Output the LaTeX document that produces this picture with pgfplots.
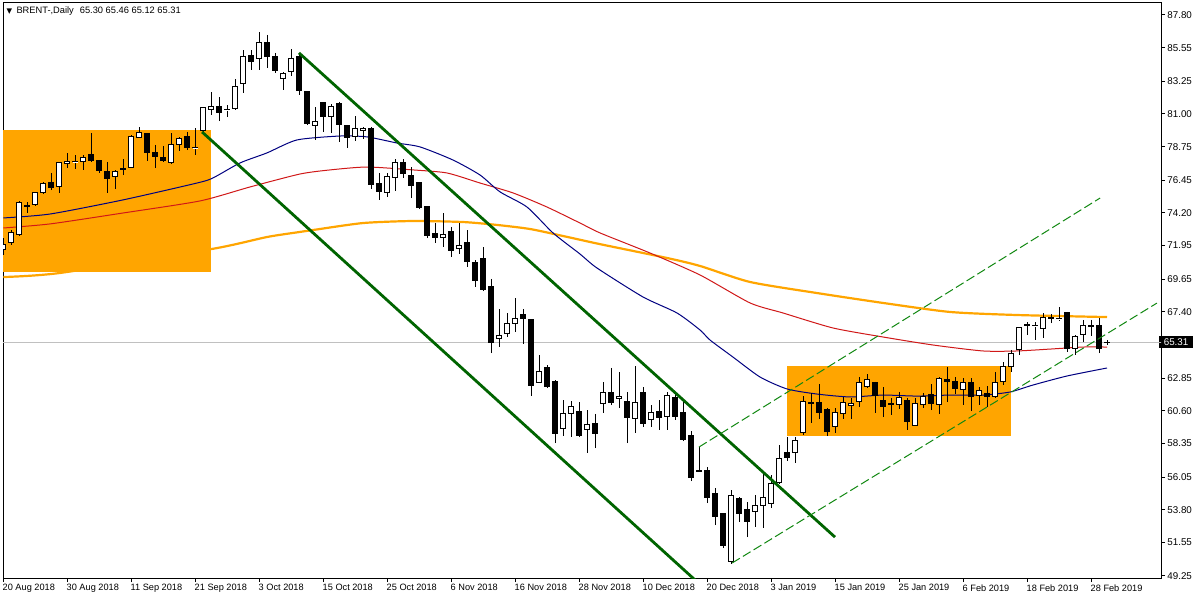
\documentclass[border=0pt]{standalone}
\usepackage{fontspec}
\setmainfont{Liberation Sans}
\newfontfamily\symfont{DejaVu Sans}
\usepackage{pgfplots}
\usepackage{pgfplotstable}
\usepgfplotslibrary{statistics}
\pgfplotsset{compat=1.18}
\definecolor{mtorange}{HTML}{FFA500}
\definecolor{dkgreen}{HTML}{006400}
\definecolor{dgreen}{HTML}{118811}
\definecolor{mtnavy}{HTML}{000080}
\definecolor{mtred}{HTML}{D01818}
\definecolor{mtsilver}{HTML}{C0C0C0}

\pgfplotstableread{
o h l c
71.65 72.50 71.30 72.00
72.13 73.02 71.99 72.82
72.68 75.02 72.61 74.88
74.67 74.95 74.19 74.70
74.74 75.63 74.67 75.57
75.57 76.32 75.50 76.25
76.32 76.94 75.77 75.91
75.98 77.70 75.57 77.63
77.56 78.32 77.28 77.70
77.70 78.18 77.22 77.72
77.70 78.18 77.15 77.97
78.18 79.69 77.70 77.77
77.83 77.83 76.94 77.08
77.01 77.70 75.57 76.53
76.67 77.15 75.84 77.01
77.28 77.90 76.80 77.15
77.35 79.55 77.35 79.48
79.41 80.10 79.35 79.69
79.62 79.62 77.77 78.38
78.38 78.87 77.28 78.04
77.97 78.80 77.70 77.83
77.63 79.69 77.56 78.87
78.93 79.42 78.45 79.28
79.42 79.76 78.52 78.66
78.66 80.03 78.18 78.68
79.83 81.48 79.76 81.41
81.27 82.51 80.93 81.48
81.48 82.16 80.51 81.13
81.27 81.61 80.79 81.29
81.34 83.40 81.27 82.85
83.06 85.39 82.44 84.91
84.98 85.39 84.02 84.57
84.78 86.63 84.02 85.94
85.94 86.43 84.16 84.91
84.91 85.19 83.81 83.95
83.40 83.88 82.65 83.75
83.88 85.46 83.61 84.84
84.91 85.19 82.30 82.58
82.51 82.51 80.24 80.31
80.17 81.48 79.21 80.45
81.75 81.75 79.76 80.79
80.79 81.68 79.69 81.48
81.68 81.82 79.07 80.24
80.17 80.24 78.66 79.35
79.42 80.86 79.14 79.97
79.83 80.10 79.28 79.97
80.03 80.10 75.84 76.18
76.25 76.94 75.09 75.64
75.57 76.94 75.29 76.67
76.60 77.90 75.70 77.63
77.63 77.90 76.60 76.87
76.80 77.35 75.22 76.05
76.32 76.32 74.47 74.54
74.67 74.67 72.47 72.61
72.75 73.50 72.13 72.54
72.54 74.19 71.85 72.68
72.89 73.23 71.17 71.58
71.72 73.50 71.37 71.99
72.13 73.02 70.48 70.89
70.82 70.96 69.11 69.52
71.03 71.85 68.83 68.90
69.17 69.66 64.57 65.26
65.60 67.59 64.98 65.80
65.94 67.32 65.67 66.63
66.63 68.35 66.01 66.97
67.25 67.59 65.19 66.97
66.84 66.84 61.62 62.37
62.51 64.43 62.51 63.33
63.54 63.74 62.16 62.30
62.58 62.71 58.38 59.07
59.35 61.34 58.87 60.38
60.38 61.27 58.80 60.86
60.58 61.20 58.80 58.87
59.28 60.65 57.70 59.69
59.76 60.38 58.04 59.07
61.13 62.58 60.45 61.89
61.89 63.54 60.99 61.20
61.41 63.26 60.79 61.55
61.27 61.89 58.38 60.17
60.10 63.68 59.07 61.20
61.89 62.23 59.49 59.76
60.03 60.99 59.49 60.45
60.58 61.34 59.28 60.17
60.24 61.89 59.28 61.68
61.48 61.82 59.97 60.24
60.45 61.20 58.52 58.66
58.93 59.21 55.77 56.05
56.46 58.11 56.39 56.48
56.53 56.73 54.26 54.67
54.95 55.29 52.75 53.37
53.51 53.57 51.17 51.31
50.21 55.16 50.07 54.81
54.60 54.67 52.96 53.57
53.85 54.33 51.92 52.96
53.71 54.81 52.62 54.12
54.12 56.32 52.55 54.67
54.26 56.19 53.92 55.57
55.64 58.25 55.57 57.35
57.70 58.80 57.15 57.42
57.70 58.80 57.01 58.59
59.14 61.62 58.93 61.27
61.13 61.82 59.76 61.15
61.20 62.44 60.03 60.45
60.72 60.79 58.87 59.21
59.49 60.79 59.07 60.45
60.38 61.55 60.03 61.20
60.93 61.48 60.03 61.13
61.27 62.92 60.86 62.51
62.30 63.13 62.16 62.78
62.51 62.58 60.45 61.62
61.34 62.23 60.17 60.86
61.00 61.48 60.31 61.13
61.00 61.89 60.72 61.48
61.34 61.48 59.28 59.83
59.62 61.48 59.55 61.13
61.00 61.82 60.79 61.55
61.75 62.44 60.65 61.13
61.00 62.92 60.38 62.85
62.78 63.61 61.20 62.64
62.58 62.92 61.75 62.10
62.03 62.85 60.99 62.51
62.51 62.85 60.58 61.55
61.62 62.23 60.99 61.96
61.82 62.30 60.86 61.55
61.55 63.26 61.48 62.51
62.58 63.95 62.37 63.61
63.61 64.78 63.26 64.57
64.84 66.36 64.43 66.29
66.49 66.70 65.81 66.51
66.43 66.70 65.46 66.45
66.22 67.32 65.60 67.04
67.04 67.25 66.63 66.91
66.91 67.73 66.77 66.93
67.32 67.39 64.64 64.91
64.91 65.81 64.43 65.67
65.81 66.84 65.33 66.43
66.49 66.84 65.74 66.36
66.49 66.98 64.57 64.91
65.30 65.46 65.12 65.31
}\ohlc

\pgfplotsset{candle/.style={draw=black, line width=0.5pt, solid, mark=none, forget plot,
  boxplot/draw direction=y, boxplot/box extend=0.6, boxplot/whisker extend=0}}

\begin{document}
\begin{tikzpicture}
\begin{axis}[
  scale only axis, width=579pt, height=287.5pt,
  xmin=-0.04, xmax=144.71, ymin=49.11, ymax=88.62,
  axis line style={line width=0.5pt, black},
  clip mode=individual,
  xtick={0,8,...,136},
  xticklabels={20 Aug 2018,30 Aug 2018,11 Sep 2018,21 Sep 2018,3 Oct 2018,15 Oct 2018,25 Oct 2018,6 Nov 2018,16 Nov 2018,28 Nov 2018,10 Dec 2018,20 Dec 2018,3 Jan 2019,15 Jan 2019,25 Jan 2019,6 Feb 2019,18 Feb 2019,28 Feb 2019},
  ytick={49.25,51.55,53.80,56.05,58.35,60.60,62.85,67.40,69.65,71.95,74.20,76.45,78.75,81.00,83.25,85.55,87.80},
  yticklabels={49.25,51.55,53.80,56.05,58.35,60.60,62.85,67.40,69.65,71.95,74.20,76.45,78.75,81.00,83.25,85.55,87.80},
  xtick pos=bottom, ytick pos=right, yticklabel pos=right,
  tick align=outside, major tick length=2pt,
  tick style={black, line width=0.5pt},
  xticklabel style={font=\fontsize{4.6}{5}\selectfont, anchor=north west, inner sep=0pt, xshift=-0.5pt, yshift=-1pt},
  yticklabel style={font=\fontsize{4.9}{5}\selectfont, anchor=west, inner sep=0pt, xshift=1pt},
  extra y ticks={65.31}, extra y tick labels={65.31},
  extra y tick style={major tick length=0pt, yticklabel style={fill=black, text=white, inner xsep=2.2pt, inner ysep=1.2pt, xshift=-2pt}},
]
% current price line
\addplot[mtsilver, line width=0.5pt, forget plot] coordinates {(-1,65.31) (145,65.31)};
% rectangles
\addplot[fill=mtorange, draw=none, forget plot] coordinates {(-1,70.16) (25.96,70.16) (25.96,79.90) (-1,79.90)} -- cycle;
\addplot[fill=mtorange, draw=none, forget plot] coordinates {(97.9,58.89) (125.96,58.89) (125.96,63.68) (97.9,63.68)} -- cycle;
% moving averages
\addplot[mtorange, line width=1.1pt, smooth, tension=0.4, forget plot] coordinates {(0,69.79)(7.09,70.07)(26.09,71.72)(32.96,72.54)(37.09,72.89)(38.71,73.02)(44.96,73.50)(51.21,73.64)(57.46,73.57)(61.71,73.37)(65.84,73.09)(69.96,72.61)(74.59,72.05)(82.96,71.10)(87.09,70.55)(93.34,69.45)(101.71,68.69)(109.96,68.01)(118.34,67.39)(126.71,67.18)(137.96,67.04)};
\addplot[mtred, line width=0.5pt, smooth, tension=0.4, forget plot] coordinates {(0,73.16)(5.84,73.44)(14.96,74.19)(24.59,75.02)(30.84,75.98)(37.09,76.87)(40.84,77.15)(45.46,77.35)(51.21,77.15)(55.46,76.94)(59.59,76.25)(63.71,75.57)(67.96,74.60)(72.09,73.50)(74.59,72.82)(80.84,71.44)(87.09,69.93)(93.34,68.01)(97.46,67.32)(103.71,66.29)(109.96,65.67)(116.21,65.12)(122.46,64.71)(126.71,64.71)(130.84,64.84)(134.96,64.98)(137.96,64.98)};
\addplot[mtnavy, line width=0.5pt, smooth, tension=0.4, forget plot] coordinates {(0,73.85)(5.84,74.12)(14.96,75.09)(24.21,76.25)(26.21,76.60)(29.59,77.63)(32.96,78.32)(36.71,79.21)(42.09,79.48)(45.46,79.42)(49.21,79.00)(52.09,78.73)(56.21,77.83)(59.59,76.80)(62.09,75.64)(65.46,74.60)(68.71,72.82)(72.09,71.37)(74.21,70.41)(79.96,68.42)(84.21,67.32)(87.09,66.15)(88.34,65.46)(91.21,64.29)(94.59,62.92)(97.96,62.10)(101.71,61.75)(105.84,61.55)(109.96,61.68)(114.21,61.61)(118.34,61.68)(122.46,61.68)(125.84,61.89)(128.71,62.37)(132.96,62.99)(137.96,63.54)};
% candles
\pgfplotsinvokeforeach{0,...,138}{%
  \pgfplotstablegetelem{#1}{o}\of\ohlc\let\vo\pgfplotsretval
  \pgfplotstablegetelem{#1}{h}\of\ohlc\let\vh\pgfplotsretval
  \pgfplotstablegetelem{#1}{l}\of\ohlc\let\vl\pgfplotsretval
  \pgfplotstablegetelem{#1}{c}\of\ohlc\let\vc\pgfplotsretval
  \pgfmathsetmacro\vlo{min(\vo,\vc)}%
  \pgfmathsetmacro\vhi{max(\vo,\vc)}%
  \ifdim\vc pt<\vo pt\def\vfill{black}\else\def\vfill{white}\fi
  \edef\tmp{\noexpand\addplot[candle, fill=\vfill, boxplot prepared={draw position=#1, lower whisker=\vl, lower quartile=\vlo, median=\vc, upper quartile=\vhi, upper whisker=\vh}] coordinates {};}%
  \tmp
}
% channel lines
\addplot[dkgreen, line width=1.4pt, forget plot] coordinates {(36.96,85.19) (103.96,51.92)};
\addplot[dkgreen, line width=1.4pt, forget plot] coordinates {(24.84,79.76) (88,48.21)};
\addplot[dgreen, line width=0.5pt, dash pattern=on 4.5pt off 1.8pt, forget plot] coordinates {(86.96,58.11) (137.1,75.22)};
\addplot[dgreen, line width=0.5pt, dash pattern=on 4.5pt off 1.8pt, forget plot] coordinates {(91.1,50.14) (144.2,68.00)};
% title
\node[anchor=west, inner sep=0pt] at ([xshift=1.6pt, yshift=-4pt]rel axis cs:0,1) {{\symfont\fontsize{3.6}{4}\selectfont ▼}\hspace{2.2pt}{\fontsize{4.65}{5}\selectfont BRENT-,Daily\hspace{3pt}65.30 65.46 65.12 65.31}};
\end{axis}
\pgfresetboundingbox
\path[use as bounding box] ([xshift=-1.5pt,yshift=-11pt]current axis.south west) rectangle ([xshift=19.5pt,yshift=1.5pt]current axis.north east);
\end{tikzpicture}
\end{document}
